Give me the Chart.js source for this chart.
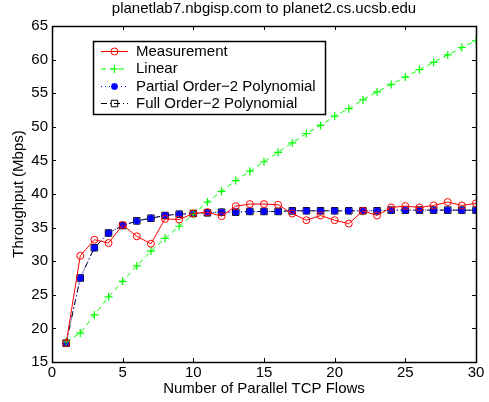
<!DOCTYPE html>
<html>
<head>
<meta charset="utf-8">
<script src="https://cdn.jsdelivr.net/npm/chart.js@4"></script>
<style>
html,body{margin:0;padding:0;background:#fff;}
#c{display:block;}
</style>
</head>
<body>
<canvas id="c" width="489" height="402"></canvas>
<script>
const flows = [1,2,3,4,5,6,7,8,9,10,11,12,13,14,15,16,17,18,19,20,21,22,23,24,25,26,27,28,29,30];
const measurement = [17.8,30.8,33.2,32.7,35.4,33.7,32.6,36.3,36.2,37.1,37.3,36.7,38.2,38.5,38.5,38.4,37.1,36.1,36.8,36.1,35.6,37.5,36.8,38.0,38.2,38.0,38.3,38.8,38.3,38.6];
const linear = [18.0,19.3,22.0,24.7,27.0,29.3,31.5,33.4,35.2,37.0,38.8,40.4,42.0,43.4,44.8,46.2,47.6,49.0,50.2,51.6,52.7,54.0,55.2,56.3,57.4,58.5,59.6,60.7,61.8,62.8];
const partialPoly = [17.8,27.5,32.0,34.2,35.3,36.0,36.4,36.8,37.0,37.1,37.2,37.3,37.3,37.4,37.4,37.4,37.5,37.5,37.5,37.5,37.5,37.5,37.5,37.6,37.6,37.6,37.6,37.6,37.6,37.6];
const fullPoly = [17.8,27.5,32.0,34.2,35.3,36.0,36.4,36.8,37.0,37.1,37.2,37.3,37.3,37.4,37.4,37.4,37.5,37.5,37.5,37.5,37.5,37.5,37.5,37.6,37.6,37.6,37.6,37.6,37.6,37.6];
const seriesNames = ["Measurement","Linear","Partial Order\u22122 Polynomial","Full Order\u22122 Polynomial"];
const xTicks = [0,5,10,15,20,25,30];
const yTicks = [15,20,25,30,35,40,45,50,55,60,65];
const titleText = "planetlab7.nbgisp.com to planet2.cs.ucsb.edu";
const xLabel = "Number of Parallel TCP Flows";
const yLabel = "Throughput (Mbps)";

const FONT = "'Liberation Sans', Arial, Helvetica, sans-serif";
const FS = 15;
const pts = arr => arr.map((v,i)=>({x:flows[i], y:v}));

const boxTicks = {
  id:'boxTicks',
  afterDatasetsDraw(chart){
    const {ctx, chartArea:a, scales:{x,y}} = chart;
    ctx.save();
    ctx.strokeStyle='#000'; ctx.lineWidth=1;
    const L=4;
    ctx.beginPath();
    xTicks.forEach(v=>{
      const px=Math.round(x.getPixelForValue(v))+0.5;
      ctx.moveTo(px,a.bottom); ctx.lineTo(px,a.bottom-L);
      ctx.moveTo(px,a.top); ctx.lineTo(px,a.top+L);
    });
    yTicks.forEach(v=>{
      const py=Math.round(y.getPixelForValue(v))+0.5;
      ctx.moveTo(a.left,py); ctx.lineTo(a.left+L,py);
      ctx.moveTo(a.right,py); ctx.lineTo(a.right-L,py);
    });
    ctx.stroke();
    ctx.lineWidth=1.5;
    ctx.strokeRect(Math.round(a.left)+0.5, Math.round(a.top)+0.5, Math.round(a.right-a.left), Math.round(a.bottom-a.top));
    ctx.restore();
  },
  afterDraw(chart){
    const ctx=chart.ctx;
    ctx.save();
    ctx.fillStyle='#000';
    ctx.font=FS+"px "+FONT;
    ctx.textAlign='center'; ctx.textBaseline='middle';
    const a=chart.chartArea;
    ctx.fillText(titleText,(a.left+a.right)/2,9);
    // legend
    const bx=93, by=41, bw=232, bh=73;
    ctx.fillStyle='#fff'; ctx.fillRect(bx,by,bw,bh);
    ctx.strokeStyle='#000'; ctx.lineWidth=1.5;
    ctx.strokeRect(bx+0.5,by+0.5,bw,bh);
    const rows=[51.5,69,86.5,103.5];
    chart.data.datasets.forEach((ds,i)=>{
      const yy=rows[i];
      ctx.save();
      ctx.strokeStyle=ds.borderColor; ctx.lineWidth=ds.borderWidth;
      ctx.setLineDash(ds.borderDash||[]);
      ctx.beginPath(); ctx.moveTo(101,yy); ctx.lineTo(128,yy); ctx.stroke();
      ctx.setLineDash([]);
      ctx.strokeStyle=ds.pointBorderColor;
      ctx.fillStyle=ds.pointBackgroundColor||'rgba(0,0,0,0)';
      ctx.lineWidth=ds.pointBorderWidth||1;
      Chart.helpers.drawPoint(ctx,{pointStyle:ds.pointStyle,radius:ds.pointRadius,borderWidth:ds.pointBorderWidth||1,rotation:0},114.5,yy);
      ctx.restore();
      ctx.fillStyle='#000';
      ctx.font=FS+"px "+FONT;
      ctx.textAlign='left'; ctx.textBaseline='middle';
      ctx.fillText(ds.label,136,yy);
    });
    ctx.restore();
  }
};

new Chart(document.getElementById('c'),{
  type:'line',
  data:{datasets:[
    {label:seriesNames[0], data:pts(measurement), borderColor:'#ff0000', borderWidth:1, backgroundColor:'rgba(0,0,0,0)',
     pointStyle:'circle', pointRadius:3.5, pointBorderColor:'#ff0000', pointBackgroundColor:'rgba(0,0,0,0)', pointBorderWidth:1, order:1},
    {label:seriesNames[1], data:pts(linear), borderColor:'#00ff00', borderWidth:1, borderDash:[5,4], backgroundColor:'rgba(0,0,0,0)',
     pointStyle:'cross', pointRadius:4, pointBorderColor:'#00ff00', pointBackgroundColor:'rgba(0,0,0,0)', pointBorderWidth:1.2, order:2},
    {label:seriesNames[2], data:pts(partialPoly), borderColor:'#0000ff', borderWidth:1, borderDash:[1,3], backgroundColor:'#0000ff',
     pointStyle:'star', pointRadius:3.5, pointBorderColor:'#0000ff', pointBackgroundColor:'#0000ff', pointBorderWidth:2, order:3},
    {label:seriesNames[3], data:pts(fullPoly), borderColor:'#000000', borderWidth:1, borderDash:[6,3,1,3], backgroundColor:'rgba(0,0,0,0)',
     pointStyle:'rect', pointRadius:4.6, pointBorderColor:'#000000', pointBackgroundColor:'rgba(0,0,0,0)', pointBorderWidth:1, order:4}
  ]},
  options:{
    responsive:false, animation:false, devicePixelRatio:1,
    layout:{padding:{left:0,right:13,top:26,bottom:0}},
    plugins:{legend:{display:false}, title:{display:false}, tooltip:{enabled:false}},
    elements:{line:{tension:0}},
    scales:{
      x:{type:'linear', min:0, max:30,
        afterBuildTicks(s){ s.ticks = xTicks.map(v=>({value:v})); },
        afterFit(s){ s.height=40; },
        grid:{display:false, drawTicks:false}, border:{display:false},
        ticks:{padding:2, color:'#000', font:{family:FONT,size:FS}, maxRotation:0, autoSkip:false},
        title:{display:true, text:xLabel, color:'#000', font:{family:FONT,size:FS}, padding:{top:0,bottom:4}}
      },
      y:{type:'linear', min:15, max:65,
        afterBuildTicks(s){ s.ticks = yTicks.map(v=>({value:v})); },
        afterFit(s){ s.width=52; },
        grid:{display:false, drawTicks:false}, border:{display:false},
        ticks:{padding:4, color:'#000', font:{family:FONT,size:FS}, autoSkip:false},
        title:{display:true, text:yLabel, color:'#000', font:{family:FONT,size:FS}, padding:{top:10,bottom:0}}
      }
    }
  },
  plugins:[boxTicks]
});
</script>
</body>
</html>
